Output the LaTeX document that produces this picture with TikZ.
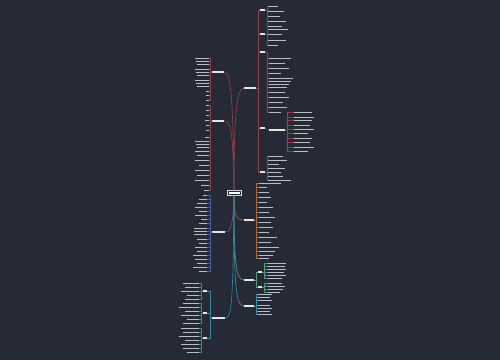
\documentclass[tikz,border=0pt]{standalone}
\usepackage{tikz}
\usetikzlibrary{positioning,calc}
\definecolor{bgc}{HTML}{262A36}
\definecolor{txtc}{HTML}{B9BDC6}
\definecolor{redc}{HTML}{93404F}
\definecolor{orgc}{HTML}{A2683E}
\definecolor{grnc}{HTML}{4F9A7A}
\definecolor{tealc}{HTML}{3E8FA3}
\definecolor{bluec}{HTML}{5058A8}
\definecolor{cyanc}{HTML}{2F86A0}
\tikzset{
    txt/.style={
        inner sep=0pt,
        fill=txtc,
        minimum height=0.5mm,
        minimum width=#1*0.5mm
    },
    txt/.default=10,
    lab/.style={
        inner sep=0pt,
        fill=white!90!black,
        minimum height=0.7mm,
        minimum width=#1*0.5mm
    },
    lab/.default=12,
    rootbox/.style={
        draw=white!85!black,
        fill=bgc,
        line width=0.4pt,
        inner sep=0.6mm,
        minimum width=7mm,
        minimum height=2.4mm
    },
    br/.style={line width=0.9pt},
    tw/.style={line width=0.45pt}
}
% leaves to the right / left of a parent node
\newcommand\rleaves[4]{%
  \foreach \yy/\ww [count=\k] in {#4}{
    \node[txt=\ww, anchor=west] (#1-\k) at (#3,\yy) {};
    \draw[tw,#2] (#1.east) -- ++(1.5,0) |- (#1-\k.west);
  }}
\newcommand\lleaves[4]{%
  \foreach \yy/\ww [count=\k] in {#4}{
    \node[txt=\ww, anchor=east] (#1-\k) at (#3,\yy) {};
    \draw[tw,#2] (#1.west) -- ++(-1.5,0) |- (#1-\k.east);
  }}

\begin{document}
\begin{tikzpicture}[x=0.5mm,y=-0.5mm]
\fill[bgc] (0,0) rectangle (500,360);
\useasboundingbox (0,0) rectangle (500,360);

\node[rootbox] (root) at (234,193) {\textcolor{white}{\rule{5.5mm}{0.6mm}}};

% branch labels
\node[lab=12, anchor=west] (r1) at (244,88) {};
\node[lab=12, anchor=west] (r2) at (212,72) {};
\node[lab=12, anchor=west] (r2b) at (212,121) {};
\node[lab=10, anchor=west] (r3) at (244,220) {};
\node[lab=10, anchor=west] (r4) at (244,280) {};
\node[lab=10, anchor=west] (r5) at (244,306) {};
\node[lab=13, anchor=west] (l1) at (212,232) {};
\node[lab=13, anchor=west] (l2) at (212,318) {};

\draw[br,redc] (root.north) .. controls (234,120) and (236,88) .. (r1.west);
\draw[br,redc] (root.north) .. controls (233,110) and (232,72) .. (r2.east);
\draw[br,redc] (root.north) .. controls (233,140) and (232,121) .. (r2b.east);
\draw[br,orgc] (root.south) .. controls (234,215) and (236,220) .. (r3.west);
\draw[br,grnc] (root.south) .. controls (234,265) and (236,280) .. (r4.west);
\draw[br,tealc] (root.south) .. controls (234,290) and (236,306) .. (r5.west);
\draw[br,bluec] (root.south) .. controls (233,220) and (232,232) .. (l1.east);
\draw[br,cyanc] (root.south) .. controls (233,300) and (232,318) .. (l2.east);

% upper right
\foreach \n/\y in {a1/10,a2/34,a3/52,a4/128,a5/172}
  \node[lab=5, anchor=west] (\n) at (260,\y) {};
\foreach \n in {a1,a2,a3,a4,a5}
  \draw[tw,redc] (r1.east) -- ++(1.5,0) |- (\n.west);
\rleaves{a1}{redc}{268}{7/10,12/16,17/12,22/18,27/14}
\rleaves{a2}{redc}{268}{30/20,35/14,40/18,45/10}
\rleaves{a3}{redc}{269}{58/22,63/16,68/20,73/12,78/24,81/22,84/20,87/18,92/16,97/20,102/14,107/18,112/12}
\node[lab=16, anchor=west] (b4) at (269,130) {};
\draw[tw,redc] (a4.east) -- (b4.west);
\rleaves{b4}{redc}{294}{112/18,117/20,120/18,125/16,129/20,133/14,138/18,142/16,147/20,151/14}
\rleaves{a5}{redc}{267}{156/16,160/20,164/12,168/18,172/14,176/16,180/24}

% upper left
\lleaves{r2}{redc}{209}{58/14,61/13,64/12,69/14,72/13,75/12,80/14,83/13,86/12,91/3,95/3,100/3}
\lleaves{r2b}{redc}{209}{105/3,110/3,115/3,120/4,125/3,130/3,137/4,141/14,144/13,147/12,151/14,155/12,160/14,165/10,170/14,175/12,180/14,185/8,190/5}

% right middle and bottom
\rleaves{r3}{orgc}{259}{183/22,187/8,192/10,197/12,202/8,207/14,212/10,217/16,222/12,227/14,232/10,237/18,242/12,247/20,251/16,255/14,258/10}
\node[lab=4, anchor=west] (c1) at (258,272) {};
\node[lab=4, anchor=west] (c2) at (258,287) {};
\foreach \n in {c1,c2}
  \draw[tw,grnc] (r4.east) -- ++(1.5,0) |- (\n.west);
\rleaves{c1}{grnc}{268}{263/18,266/17,269/18,272/16,275/18,278/14}
\rleaves{c2}{grnc}{268}{283/14,286/17,289/15,292/12}
\rleaves{r5}{tealc}{258}{294/14,297/12,300/14,305/12,308/14,311/12,314/14}

% lower left
\lleaves{l1}{bluec}{207}{195/4,199/8,203/10,207/12,211/8,215/12,219/6,223/8,228/13,231/13,234/13,239/10,243/8,247/12,251/10,255/14,259/12,263/10,267/14,271/8}
\foreach \n/\y in {d1/291,d2/313,d3/338}
  \node[lab=4, anchor=east] (\n) at (207,\y) {};
\foreach \n in {d1,d2,d3}
  \draw[tw,cyanc] (l2.west) -- ++(-1.5,0) |- (\n.east);
\lleaves{d1}{cyanc}{199}{283/16,287/14,291/18,295/12,299/14}
\lleaves{d2}{cyanc}{199}{303/16,307/20,311/14,315/18,319/12,323/16}
\lleaves{d3}{cyanc}{199}{328/18,332/16,336/20,340/14,344/18,348/16,352/12}

\end{tikzpicture}
\end{document}
